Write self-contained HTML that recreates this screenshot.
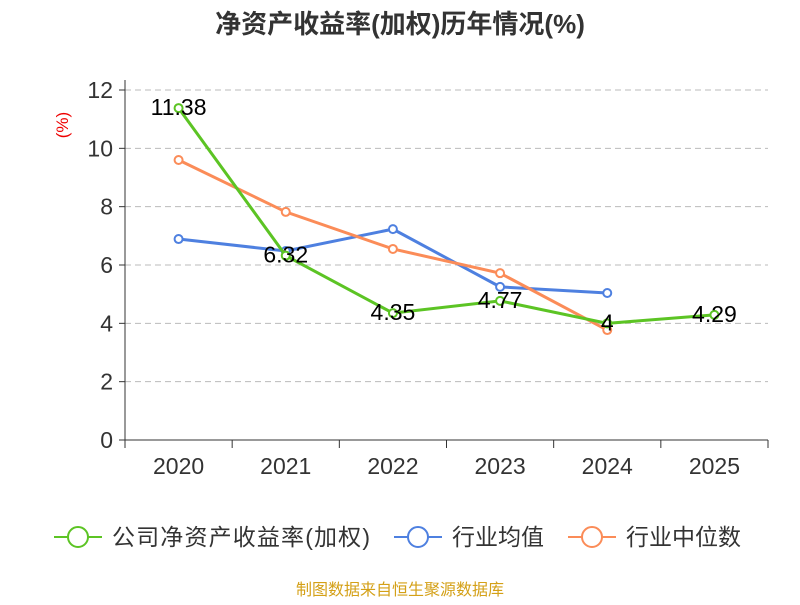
<!DOCTYPE html>
<html><head><meta charset="utf-8"><style>
body{margin:0;background:#fff;font-family:"Liberation Sans","Noto Sans CJK SC",sans-serif;}
svg text{font-family:"Liberation Sans","Noto Sans CJK SC",sans-serif;}
</style></head><body>
<svg id="c" width="800" height="600">
<text x="400" y="33" text-anchor="middle" font-size="26" font-weight="bold" fill="#333">净资产收益率(加权)历年情况(%)</text>
<text x="68" y="125" text-anchor="middle" font-size="17" fill="#e00" transform="rotate(-90 68 125)">(%)</text>
<g id="grid"></g><g id="axes"></g><g id="series"></g>
<g>
<g><line x1="54" y1="537" x2="102" y2="537" stroke="#5cc424" stroke-width="2"/><circle cx="78" cy="537" r="10" fill="#fff" stroke="#5cc424" stroke-width="2"/><text x="112" y="545" font-size="23" fill="#333" textLength="258">公司净资产收益率(加权)</text></g>
<g><line x1="394" y1="537" x2="442" y2="537" stroke="#4e80e0" stroke-width="2"/><circle cx="418" cy="537" r="10" fill="#fff" stroke="#4e80e0" stroke-width="2"/><text x="452" y="545" font-size="23" fill="#333">行业均值</text></g>
<g><line x1="568" y1="537" x2="616" y2="537" stroke="#fb8c58" stroke-width="2"/><circle cx="592" cy="537" r="10" fill="#fff" stroke="#fb8c58" stroke-width="2"/><text x="626" y="545" font-size="23" fill="#333">行业中位数</text></g>
</g>
<text x="400" y="595" text-anchor="middle" font-size="16" fill="#d4a017">制图数据来自恒生聚源数据库</text>
</svg>
<script>
const categories=["2020","2021","2022","2023","2024","2025"];
const companyValues=[11.38,6.32,4.35,4.77,4,4.29];
const avgValues=[6.89,6.48,7.23,5.25,5.04,null];
const medianValues=[9.6,7.82,6.55,5.72,3.77,null];
const yTicks=[0,2,4,6,8,10,12];
const ns="http://www.w3.org/2000/svg";
const L=125,R=768,T=90,B=440,yMax=12;
const bw=(R-L)/categories.length;
const xs=i=>L+bw*(i+0.5);
const ys=v=>B-(v/yMax)*(B-T);
function mk(tag,attrs,parent){const e=document.createElementNS(ns,tag);for(const k in attrs)e.setAttribute(k,attrs[k]);parent.appendChild(e);return e;}
const grid=document.getElementById('grid'),axes=document.getElementById('axes'),ser=document.getElementById('series');
yTicks.forEach(t=>{
 if(t>0){const g=mk('line',{x1:L,x2:R,y1:ys(t),y2:ys(t),stroke:'#bbb','stroke-dasharray':'6,4'},grid);
 
 }
 const tk=mk('line',{x1:L-6,x2:L,y1:ys(t),y2:ys(t),stroke:'#333'},axes);
 
 
 const tx=mk('text',{x:L-12,y:ys(t)+8,'text-anchor':'end','font-size':23,fill:'#333'},axes);tx.textContent=t;
 
 
});
const ya=mk('line',{x1:L,x2:L,y1:T-10,y2:B,stroke:'#333'},axes);


const xa=mk('line',{x1:L,x2:R,y1:B,y2:B,stroke:'#333'},axes);


for(let i=0;i<=categories.length;i++){const t=mk('line',{x1:L+bw*i,x2:L+bw*i,y1:B,y2:B+8,stroke:'#333'},axes);
 
 }
categories.forEach((c,i)=>{const t=mk('text',{x:xs(i),y:B+34,'text-anchor':'middle','font-size':23,fill:'#333'},axes);t.textContent=c;
 
 });
function series(vals,color,name,labels){
 const g=mk('g',{},ser);
 
 
 const pts=[];vals.forEach((v,i)=>{if(v!=null)pts.push([xs(i),ys(v),v]);});
 const p=mk('polyline',{points:pts.map(p=>p[0]+','+p[1]).join(' '),fill:'none',stroke:color,'stroke-width':3},g);
 
 
 pts.forEach(q=>{const c=mk('circle',{cx:q[0],cy:q[1],r:4,fill:'#fff',stroke:color,'stroke-width':2},g);
  
  
  if(labels){const t=mk('text',{x:q[0],y:q[1]+7,'text-anchor':'middle','font-size':23,fill:'#000'},g);t.textContent=q[2];
   
   }
 });
}
series(avgValues,'#4e80e0','industry-average',false);
series(medianValues,'#fb8c58','industry-median',false);
series(companyValues,'#5cc424','company-roe',true);
</script>
</body></html>
